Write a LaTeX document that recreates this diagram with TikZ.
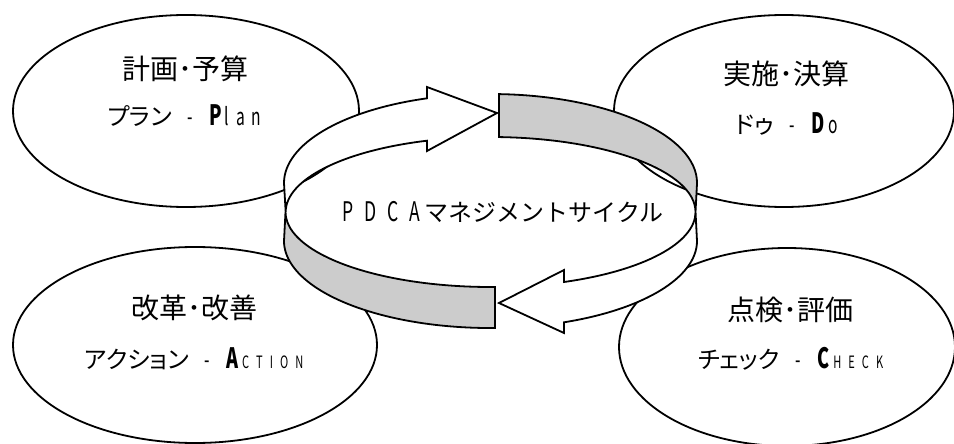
\documentclass[tikz,border=0pt]{standalone}
\usepackage{fontspec}
\usetikzlibrary{shapes.geometric}
\setmainfont{Noto Sans CJK JP}
\newfontfamily\jpp{Noto Sans CJK JP}[RawFeature=+palt]
\newfontfamily\latn{Noto Sans CJK JP}[FakeStretch=0.65]
\definecolor{bandgray}{gray}{0.8}
\newcommand{\lsp}{\hspace{7pt}}
\newcommand{\dsh}{\hspace{16pt}{\latn -}\hspace{16pt}}
\newcommand{\capB}[1]{{\latn\bfseries\fontsize{28}{28}\selectfont #1}}
\newcommand{\capS}[1]{{\latn\fontsize{17}{17}\selectfont #1}}
\tikzset{
  phase/.style={ellipse, draw, line width=1.8pt, fill=white, inner sep=0pt},
  title/.style={font=\fontsize{28}{30}\selectfont, inner sep=0pt},
  subtitle/.style={font=\jpp\fontsize{24}{26}\selectfont, inner sep=0pt},
  band/.style={draw, line width=1.8pt, line join=miter},
}

\begin{document}
\begin{tikzpicture}[x=1pt,y=-1pt]
  \useasboundingbox (0,0) rectangle (954,444);
  % the four phases
  \node[phase, minimum width=346pt, minimum height=192pt] (plan) at (186,111) {};
  \node[phase, minimum width=340pt, minimum height=192pt] (do) at (784,111) {};
  \node[phase, minimum width=364pt, minimum height=196pt] (act) at (195,345) {};
  \node[phase, minimum width=336pt, minimum height=198pt] (check) at (787,347) {};
  \node[title] (plan-t) at (185.5,69) {計画･予算};
  \node[subtitle] (plan-s) at (184.5,116) {プラン\dsh\capB{P}\hspace{3pt}{\latn l\lsp a\lsp n}};
  \node[title] (do-t) at (786.5,74) {実施･決算};
  \node[subtitle] (do-s) at (786.5,124) {ドゥ\dsh\capB{D}\hspace{4pt}{\latn o}};
  \node[title] (act-t) at (194,308) {改革･改善};
  \node[subtitle] (act-s) at (194,359) {アクション\dsh\capB{A}\hspace{4pt}\capS{C\lsp T\lsp I\lsp O\lsp N}};
  \node[title] (check-t) at (790.5,310) {点検･評価};
  \node[subtitle] (check-s) at (790.5,359) {チェック\dsh\capB{C}\hspace{4pt}\capS{H\lsp E\lsp C\lsp K}};
  % the cycle ring, back half
  \draw[band, fill=white] (284,183) arc[start angle=180, end angle=252.1, x radius=206.5, y radius=89]
    -- (427,87) -- (497,113) -- (427,151) -- (427,140.7)
    arc[start angle=251.9, end angle=180, x radius=205, y radius=75] -- cycle;
  \draw[band, fill=bandgray] (499,94.1) arc[start angle=272.35, end angle=360, x radius=206.5, y radius=89]
    -- (695.5,212) arc[start angle=0, end angle=-87.6, x radius=205, y radius=75] -- cycle;
  % front half
  \draw[band, fill=white] (697,241) arc[start angle=0, end angle=69.15, x radius=206.5, y radius=87]
    -- (564,333) -- (499,303) -- (564,270) -- (564,282)
    arc[start angle=69, end angle=0, x radius=205, y radius=75] -- cycle;
  \draw[band, fill=bandgray] (285.5,212) arc[start angle=180, end angle=88.74, x radius=205, y radius=75]
    -- (495,328) arc[start angle=88.75, end angle=180, x radius=206.5, y radius=87] -- cycle;
  \node[font=\fontsize{24}{24}\selectfont, inner sep=0pt] (pdca) at (503,212)
    {{\latn\fontsize{27}{27}\selectfont P\hspace{11pt}D\hspace{11pt}C\hspace{11pt}A}\hspace{4pt}マネジメントサイクル};
\end{tikzpicture}
\end{document}
